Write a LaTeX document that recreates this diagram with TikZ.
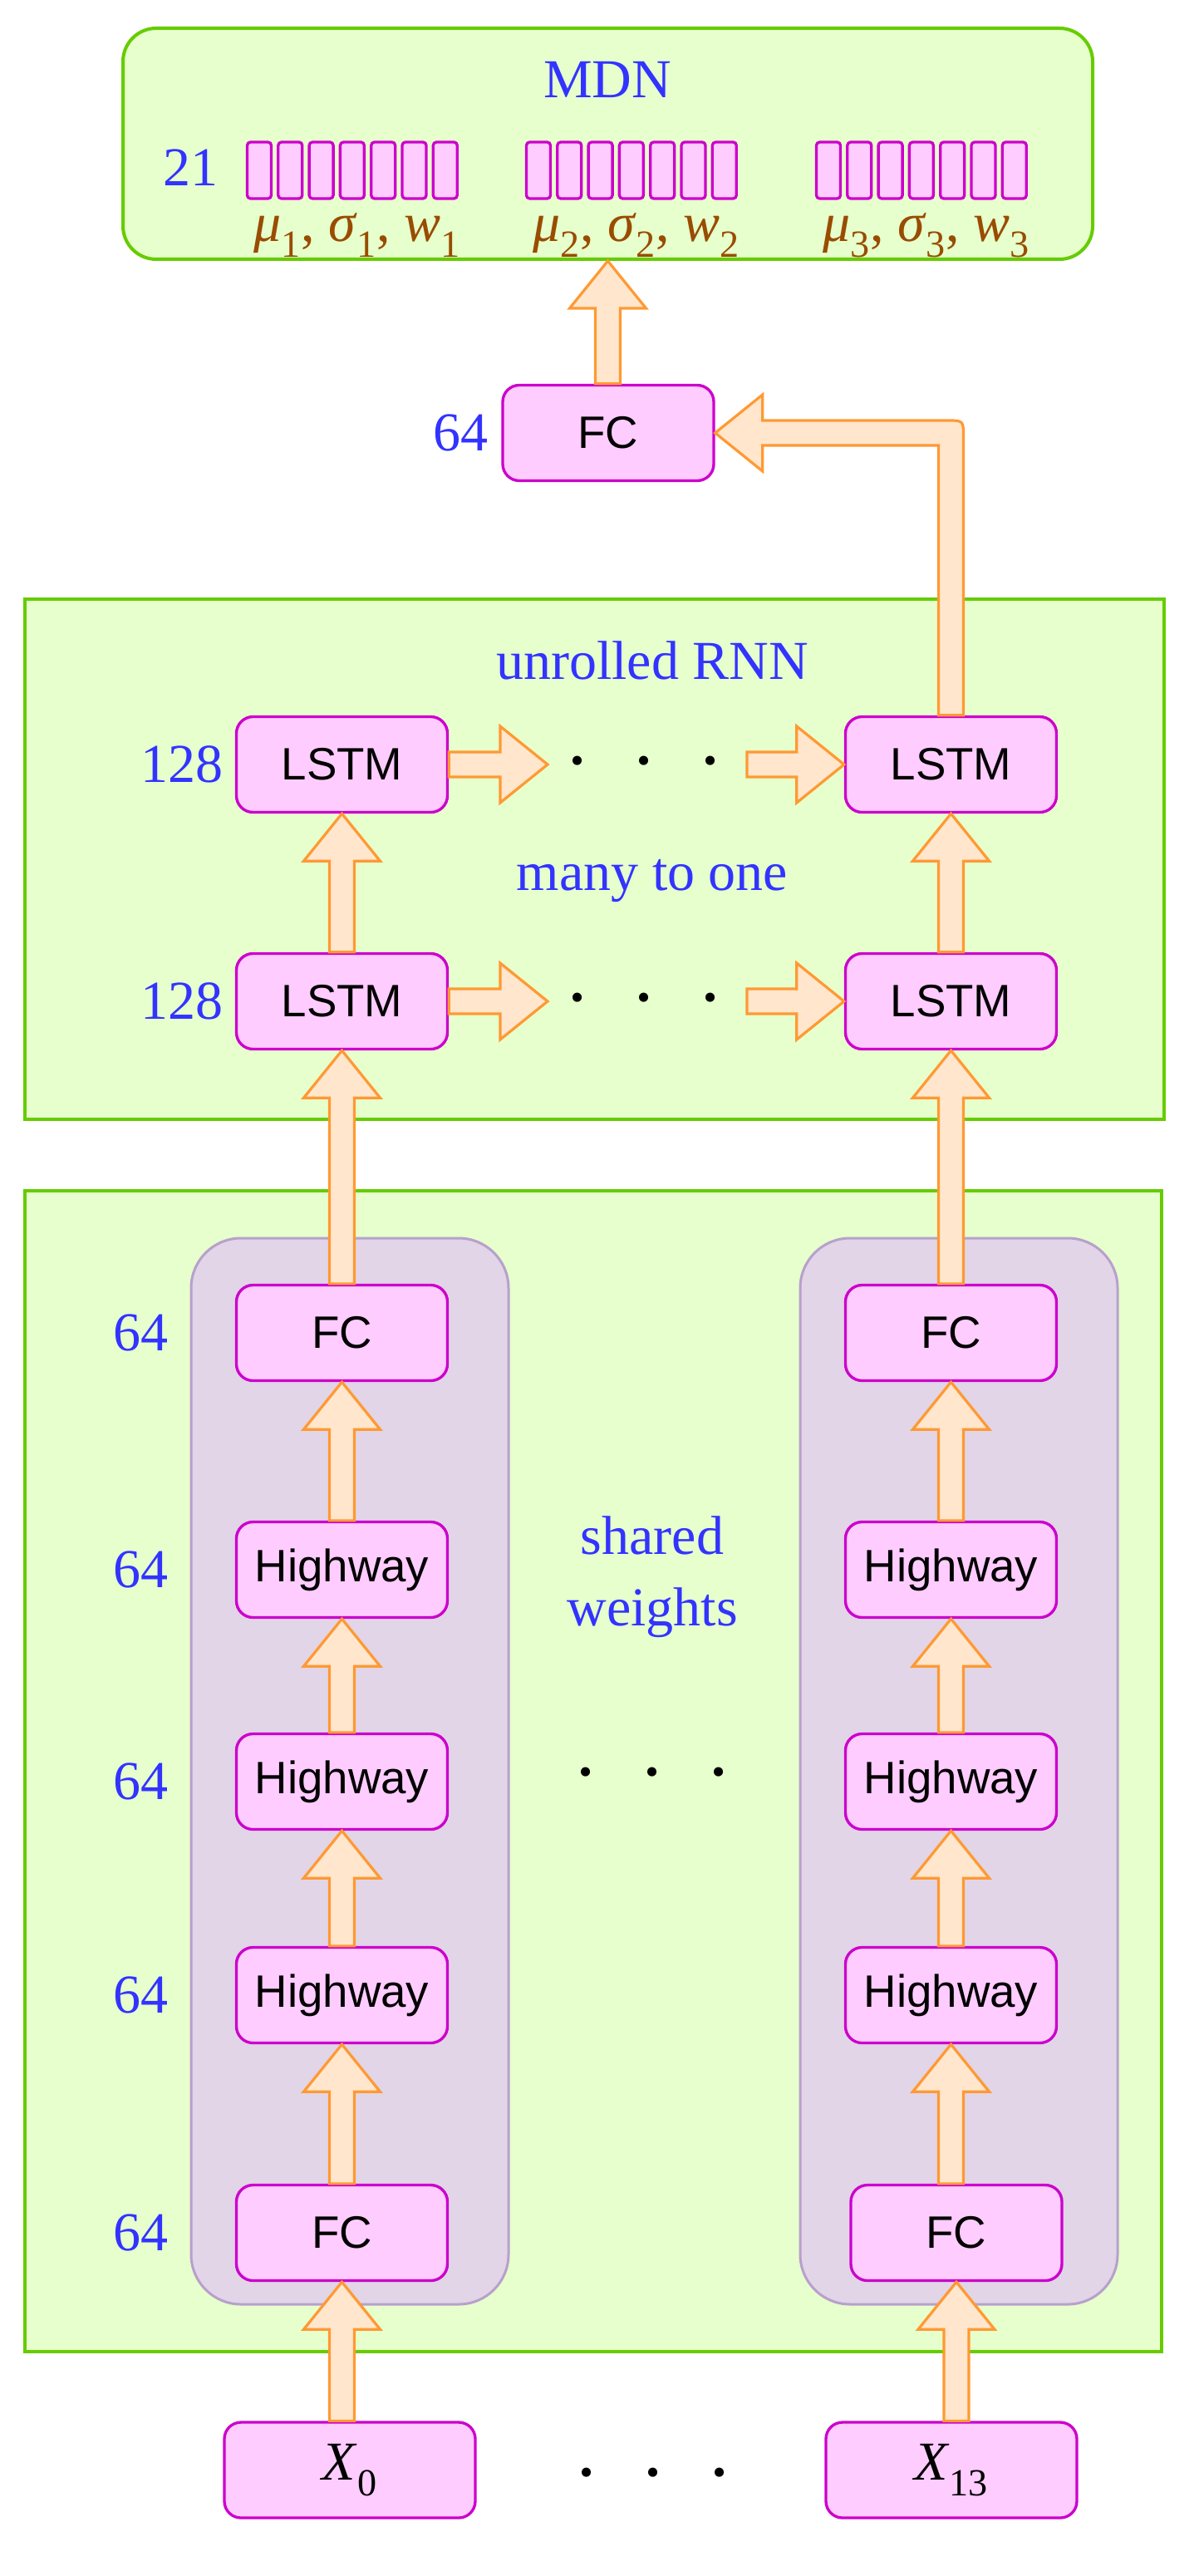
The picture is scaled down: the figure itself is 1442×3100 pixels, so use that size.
\documentclass[tikz,border=0pt]{standalone}
\usepackage{fontspec}
\setmainfont{Liberation Serif}
\newfontfamily\nodefont{Liberation Sans}
\usetikzlibrary{calc}

\tikzset{every picture/.style={line width=0.75pt}}
\tikzset{
  panel/.style={draw={rgb, 255:red, 102; green, 204; blue, 0}, fill={rgb, 255:red, 230; green, 255; blue, 204}, line width=3pt, inner sep=0pt},
  sharedbox/.style={draw={rgb, 255:red, 184; green, 160; blue, 204}, fill={rgb, 255:red, 225; green, 213; blue, 231}, line width=2.25pt, rounded corners=45pt, minimum width=286.5pt, minimum height=962.25pt, inner sep=0pt},
  layerbox/.style={draw={rgb, 255:red, 204; green, 0; blue, 204}, fill={rgb, 255:red, 255; green, 204; blue, 255}, line width=2.5pt, rounded corners=15pt, minimum width=190.5pt, minimum height=86.25pt, inner sep=0pt, font=\nodefont\fontsize{41}{48}\selectfont},
  inbox/.style={layerbox, minimum width=226.5pt, font=\fontsize{49.5}{60}\selectfont},
  cellbox/.style={draw={rgb, 255:red, 204; green, 0; blue, 204}, fill={rgb, 255:red, 255; green, 204; blue, 255}, line width=2.5pt, rounded corners=3pt, minimum width=21.75pt, minimum height=51pt, inner sep=0pt},
  dimlab/.style={text={rgb, 255:red, 51; green, 51; blue, 255}, font=\fontsize{49.5}{64.5}\selectfont, inner sep=0pt, align=center},
  paramlab/.style={text={rgb, 255:red, 153; green, 76; blue, 0}, font=\fontsize{49.5}{60}\selectfont, inner sep=0pt},
  dotlab/.style={font=\fontsize{70}{80}\selectfont, inner sep=0pt},
  fatarrow/.style={draw={rgb, 255:red, 255; green, 153; blue, 51}, fill={rgb, 255:red, 255; green, 230; blue, 204}, line width=2.4pt, line join=miter}
}
\newcommand{\threedots}{·\hspace{37pt}·\hspace{37pt}·}
% hollow arrow going up to #2, starting at the height of #1
\newcommand{\fatup}[2]{%
  \draw[fatarrow] ($(#2|-#1)+(-15,0)$) -- ($(#2)+(-15,57)$) -- ($(#2)+(-46,57)$) -- (#2) -- ($(#2)+(46,57)$) -- ($(#2)+(15,57)$) -- ($(#2|-#1)+(15,0)$) -- cycle;}
% hollow arrow going right from #1 to the x of #2
\newcommand{\fatright}[2]{%
  \draw[fatarrow] ($(#1)+(0,-15)$) -- ($(#2|-#1)+(-57,-15)$) -- ($(#2|-#1)+(-57,-46)$) -- (#2|-#1) -- ($(#2|-#1)+(-57,46)$) -- ($(#2|-#1)+(-57,15)$) -- ($(#1)+(0,15)$) -- cycle;}

\begin{document}
\begin{tikzpicture}[x=0.75pt,y=0.75pt,yscale=-1,xscale=1]
		\useasboundingbox (0,0) rectangle (1442,3100);
		
		%Panels
		\node[panel, rounded corners=30pt, minimum width=875.25pt, minimum height=208.5pt] (mdn) at (731.5,173) {};
		\node[panel, minimum width=1028.25pt, minimum height=469.5pt] (rnn) at (715.5,1034) {};
		\node[panel, minimum width=1026pt, minimum height=1047.75pt] (enc) at (714,2131.5) {};
		\node[sharedbox] (sha) at (421,2131.5) {};
		\node[sharedbox] (shb) at (1154,2131.5) {};
		
		% MDN output
		\node[dimlab] (mdntitle) at (731,96) {MDN};
		\node[dimlab] (mdnsize) at (229,202) {21};
		\foreach \g/\gx in {1/297,2/633,3/982}{
			\foreach \k in {1,...,7}{
				\node[cellbox] (mix\g\k) at ({\gx+15+37.3*(\k-1)},205) {};
			}
			\node[paramlab] (par\g) at ($(mix\g4)+(6,78)$) {\textit{μ}\textsubscript{\g}, \textit{σ}\textsubscript{\g}, \textit{w}\textsubscript{\g}};
		}
		
		% FC after the RNN
		\node[layerbox] (fco) at (732,521) {FC};
		\node[dimlab, anchor=east] (fcosize) at ($(fco.west)+(-15,0)$) {64};
		
		% Unrolled RNN
		\node[dimlab] (rnntitle) at (785,795) {unrolled RNN};
		\node[dimlab] (rnnsub) at (785,1060) {many to one};
		\node[layerbox] (l2a) at (411.5,920) {LSTM};
		\node[layerbox] (l2b) at (1144.5,920) {LSTM};
		\node[layerbox] (l1a) at (411.5,1205) {LSTM};
		\node[layerbox] (l1b) at (1144.5,1205) {LSTM};
		\node[dimlab, anchor=east] (l2size) at ($(l2a.west)+(-14,0)$) {128};
		\node[dimlab, anchor=east] (l1size) at ($(l1a.west)+(-14,0)$) {128};
		\node[dotlab] (l2dots) at (775,928) {\threedots};
		\node[dotlab] (l1dots) at (775,1213) {\threedots};
		\coordinate (h2a) at (659,920);
		\coordinate (h2b) at (899,920);
		\coordinate (h1a) at (659,1205);
		\coordinate (h1b) at (899,1205);
		
		% Encoder columns
		\foreach \c/\x/\xb in {a/411.5/411.5, b/1144.5/1151}{
			\node[layerbox] (fc2\c) at (\x,1604) {FC};
			\node[layerbox] (hw3\c) at (\x,1889) {Highway};
			\node[layerbox] (hw2\c) at (\x,2144) {Highway};
			\node[layerbox] (hw1\c) at (\x,2401) {Highway};
			\node[layerbox] (fc1\c) at (\xb,2687) {FC};
		}
		\foreach \n in {fc2,hw3,hw2,hw1,fc1}{
			\node[dimlab] (\n size) at ($(\n a.west)+(-113,0)$) {64};
		}
		\node[dimlab] (sharedlab) at (785,1898) {shared\\weights};
		\node[dotlab] (encdots) at (785,2145) {\threedots};
		
		% Inputs
		\node[inbox] (ina) at (421,2972.5) {\textit{X}\textsubscript{0}};
		\node[inbox] (inb) at (1145,2972.5) {\textit{X}\textsubscript{13}};
		\node[dotlab] (indots) at (786,2988) {\threedots};
		
		% Arrows
		\foreach \c in {a,b}{
			\foreach \s/\t in {in/fc1, fc1/hw1, hw1/hw2, hw2/hw3, hw3/fc2, fc2/l1, l1/l2}{
				\fatup{\s\c.north}{\t\c.south}
			}
		}
		\fatup{fco.north}{mdn.south}
		\fatright{l2a.east}{h2a}
		\fatright{h2b}{l2b.west}
		\fatright{l1a.east}{h1a}
		\fatright{h1b}{l1b.west}
		
		%Elbow arrow from the last LSTM to FC
		\draw[fatarrow] ($(l2b.north)+(-15,0)$) -- ($(l2b.north|-fco.east)+(-15,15)$) -- ($(fco.east)+(57,15)$) -- ($(fco.east)+(57,46)$) -- (fco.east) -- ($(fco.east)+(57,-46)$) -- ($(fco.east)+(57,-15)$) -- ($(l2b.north|-fco.east)+(-5,-15)$) .. controls ($(l2b.north|-fco.east)+(15,-15)$) .. ($(l2b.north|-fco.east)+(15,5)$) -- ($(l2b.north)+(15,0)$) -- cycle;
		
\end{tikzpicture}
\end{document}
